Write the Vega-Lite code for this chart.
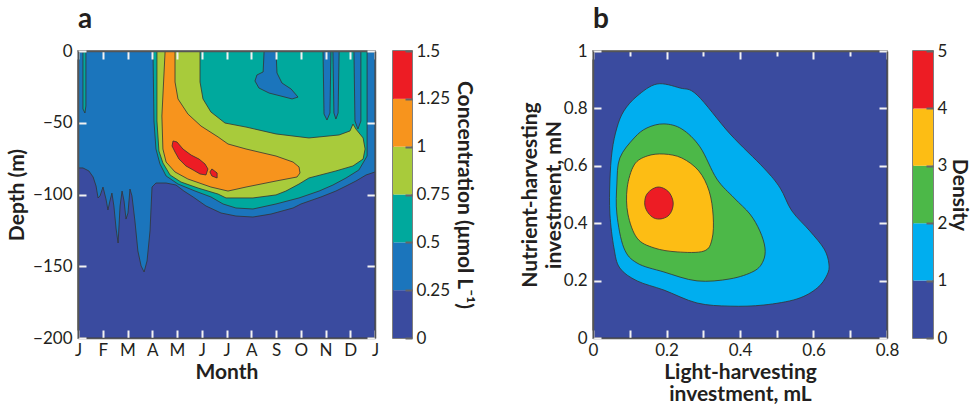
{
  "$schema": "https://vega.github.io/schema/vega-lite/v6.json",
  "background": "white",
  "padding": {"left": 5, "top": 5, "right": 0, "bottom": 0},
  "config": {
    "font": "Lato",
    "view": {"stroke": "#555555", "strokeWidth": 1.5},
    "axis": {
      "labelFont": "Lato", "labelFontSize": 17, "labelColor": "#231f20",
      "titleFont": "Lato", "titleFontSize": 21, "titleFontWeight": "bold", "titleColor": "#231f20",
      "grid": false, "domain": true, "domainColor": "#555555", "domainWidth": 1.5,
      "tickColor": "#f2f2f2", "tickWidth": 2, "tickSize": -8,
      "labelFlush": false, "labelOverlap": false
    },
    "axisX": {"labelPadding": 12, "titlePadding": 3},
    "axisY": {"labelPadding": 14, "titlePadding": 5},
    "title": {"font": "Lato", "fontSize": 28, "fontWeight": "bold", "color": "#231f20", "anchor": "start", "frame": "group", "offset": 8}
  },
  "datasets": {
    "polyA": [
      {"poly":"a0","level":0,"k":0,"month":0,"depth":0},
      {"poly":"a0","level":0,"k":1,"month":12,"depth":0},
      {"poly":"a0","level":0,"k":2,"month":12,"depth":-200},
      {"poly":"a0","level":0,"k":3,"month":0,"depth":-200},

      {"poly":"a1","level":0.25,"k":0,"month":0,"depth":0},
      {"poly":"a1","level":0.25,"k":1,"month":12,"depth":0},
      {"poly":"a1","level":0.25,"k":2,"month":12,"depth":-84.3},
      {"poly":"a1","level":0.25,"k":3,"month":11.64,"depth":-86.4},
      {"poly":"a1","level":0.25,"k":4,"month":11.23,"depth":-90.6},
      {"poly":"a1","level":0.25,"k":5,"month":10.83,"depth":-94.1},
      {"poly":"a1","level":0.25,"k":6,"month":10.42,"depth":-97.6},
      {"poly":"a1","level":0.25,"k":7,"month":9.82,"depth":-101.7},
      {"poly":"a1","level":0.25,"k":8,"month":9.01,"depth":-106.6},
      {"poly":"a1","level":0.25,"k":9,"month":8.69,"depth":-109.4},
      {"poly":"a1","level":0.25,"k":10,"month":7.80,"depth":-113.6},
      {"poly":"a1","level":0.25,"k":11,"month":7.07,"depth":-115.7},
      {"poly":"a1","level":0.25,"k":12,"month":6.38,"depth":-115.0},
      {"poly":"a1","level":0.25,"k":13,"month":5.78,"depth":-112.9},
      {"poly":"a1","level":0.25,"k":14,"month":5.17,"depth":-108.0},
      {"poly":"a1","level":0.25,"k":15,"month":4.65,"depth":-101.7},
      {"poly":"a1","level":0.25,"k":16,"month":4.28,"depth":-97.6},
      {"poly":"a1","level":0.25,"k":17,"month":3.96,"depth":-93.4},
      {"poly":"a1","level":0.25,"k":18,"month":3.56,"depth":-92.0},
      {"poly":"a1","level":0.25,"k":19,"month":3.15,"depth":-92.0},
      {"poly":"a1","level":0.25,"k":20,"month":2.99,"depth":-94.8},
      {"poly":"a1","level":0.25,"k":21,"month":2.91,"depth":-125.4},
      {"poly":"a1","level":0.25,"k":22,"month":2.79,"depth":-146.3},
      {"poly":"a1","level":0.25,"k":23,"month":2.67,"depth":-154.0},
      {"poly":"a1","level":0.25,"k":24,"month":2.55,"depth":-149.8},
      {"poly":"a1","level":0.25,"k":25,"month":2.42,"depth":-139.4},
      {"poly":"a1","level":0.25,"k":26,"month":2.30,"depth":-118.5},
      {"poly":"a1","level":0.25,"k":27,"month":2.18,"depth":-101.0},
      {"poly":"a1","level":0.25,"k":28,"month":2.10,"depth":-96.2},
      {"poly":"a1","level":0.25,"k":29,"month":2.02,"depth":-112.9},
      {"poly":"a1","level":0.25,"k":30,"month":1.94,"depth":-117.1},
      {"poly":"a1","level":0.25,"k":31,"month":1.86,"depth":-104.5},
      {"poly":"a1","level":0.25,"k":32,"month":1.78,"depth":-97.6},
      {"poly":"a1","level":0.25,"k":33,"month":1.70,"depth":-108.0},
      {"poly":"a1","level":0.25,"k":34,"month":1.62,"depth":-133.8},
      {"poly":"a1","level":0.25,"k":35,"month":1.54,"depth":-124.0},
      {"poly":"a1","level":0.25,"k":36,"month":1.45,"depth":-108.0},
      {"poly":"a1","level":0.25,"k":37,"month":1.37,"depth":-99.0},
      {"poly":"a1","level":0.25,"k":38,"month":1.29,"depth":-104.5},
      {"poly":"a1","level":0.25,"k":39,"month":1.21,"depth":-110.8},
      {"poly":"a1","level":0.25,"k":40,"month":1.13,"depth":-103.1},
      {"poly":"a1","level":0.25,"k":41,"month":1.01,"depth":-94.8},
      {"poly":"a1","level":0.25,"k":42,"month":0.89,"depth":-101.0},
      {"poly":"a1","level":0.25,"k":43,"month":0.81,"depth":-102.4},
      {"poly":"a1","level":0.25,"k":44,"month":0.73,"depth":-94.1},
      {"poly":"a1","level":0.25,"k":45,"month":0.61,"depth":-87.8},
      {"poly":"a1","level":0.25,"k":46,"month":0.44,"depth":-83.6},
      {"poly":"a1","level":0.25,"k":47,"month":0.20,"depth":-81.5},
      {"poly":"a1","level":0.25,"k":48,"month":0,"depth":-81.5},

      {"poly":"a2","level":0.5,"k":0,"month":0.20,"depth":0},
      {"poly":"a2","level":0.5,"k":1,"month":0.32,"depth":0},
      {"poly":"a2","level":0.5,"k":2,"month":0.32,"depth":-38.3},
      {"poly":"a2","level":0.5,"k":3,"month":0.28,"depth":-43.2},
      {"poly":"a2","level":0.5,"k":4,"month":0.20,"depth":-40.4},

      {"poly":"a3","level":0.5,"k":0,"month":3.03,"depth":0},
      {"poly":"a3","level":0.5,"k":1,"month":11.68,"depth":0},
      {"poly":"a3","level":0.5,"k":2,"month":11.68,"depth":-73.2},
      {"poly":"a3","level":0.5,"k":3,"month":11.35,"depth":-82.9},
      {"poly":"a3","level":0.5,"k":4,"month":10.83,"depth":-88.5},
      {"poly":"a3","level":0.5,"k":5,"month":10.30,"depth":-93.4},
      {"poly":"a3","level":0.5,"k":6,"month":9.74,"depth":-97.6},
      {"poly":"a3","level":0.5,"k":7,"month":8.93,"depth":-102.4},
      {"poly":"a3","level":0.5,"k":8,"month":8.0,"depth":-106.6},
      {"poly":"a3","level":0.5,"k":9,"month":7.07,"depth":-110.1},
      {"poly":"a3","level":0.5,"k":10,"month":6.38,"depth":-109.4},
      {"poly":"a3","level":0.5,"k":11,"month":5.86,"depth":-106.6},
      {"poly":"a3","level":0.5,"k":12,"month":5.37,"depth":-101.7},
      {"poly":"a3","level":0.5,"k":13,"month":4.73,"depth":-97.6},
      {"poly":"a3","level":0.5,"k":14,"month":4.04,"depth":-92.7},
      {"poly":"a3","level":0.5,"k":15,"month":3.56,"depth":-87.1},
      {"poly":"a3","level":0.5,"k":16,"month":3.31,"depth":-78.7},
      {"poly":"a3","level":0.5,"k":17,"month":3.15,"depth":-68.3},
      {"poly":"a3","level":0.5,"k":18,"month":3.07,"depth":-48.8},

      {"poly":"a5","level":0.75,"k":0,"month":3.19,"depth":0},
      {"poly":"a5","level":0.75,"k":1,"month":4.93,"depth":0},
      {"poly":"a5","level":0.75,"k":2,"month":4.93,"depth":-21.6},
      {"poly":"a5","level":0.75,"k":3,"month":5.05,"depth":-33.4},
      {"poly":"a5","level":0.75,"k":4,"month":5.37,"depth":-42.5},
      {"poly":"a5","level":0.75,"k":5,"month":5.94,"depth":-50.2},
      {"poly":"a5","level":0.75,"k":6,"month":6.79,"depth":-53.0},
      {"poly":"a5","level":0.75,"k":7,"month":8.0,"depth":-57.8},
      {"poly":"a5","level":0.75,"k":8,"month":9.33,"depth":-60.6},
      {"poly":"a5","level":0.75,"k":9,"month":10.55,"depth":-58.5},
      {"poly":"a5","level":0.75,"k":10,"month":10.99,"depth":-55.7},
      {"poly":"a5","level":0.75,"k":11,"month":11.11,"depth":-50.9},
      {"poly":"a5","level":0.75,"k":12,"month":11.23,"depth":-54.4},
      {"poly":"a5","level":0.75,"k":13,"month":11.52,"depth":-60.6},
      {"poly":"a5","level":0.75,"k":14,"month":11.60,"depth":-68.3},
      {"poly":"a5","level":0.75,"k":15,"month":11.52,"depth":-75.3},
      {"poly":"a5","level":0.75,"k":16,"month":11.11,"depth":-80.1},
      {"poly":"a5","level":0.75,"k":17,"month":10.42,"depth":-83.6},
      {"poly":"a5","level":0.75,"k":18,"month":9.33,"depth":-88.5},
      {"poly":"a5","level":0.75,"k":19,"month":8.93,"depth":-92.7},
      {"poly":"a5","level":0.75,"k":20,"month":8.40,"depth":-97.6},
      {"poly":"a5","level":0.75,"k":21,"month":8.0,"depth":-100.3},
      {"poly":"a5","level":0.75,"k":22,"month":7.07,"depth":-102.4},
      {"poly":"a5","level":0.75,"k":23,"month":5.98,"depth":-102.4},
      {"poly":"a5","level":0.75,"k":24,"month":5.66,"depth":-99.7},
      {"poly":"a5","level":0.75,"k":25,"month":4.85,"depth":-95.5},
      {"poly":"a5","level":0.75,"k":26,"month":4.16,"depth":-91.3},
      {"poly":"a5","level":0.75,"k":27,"month":3.72,"depth":-86.4},
      {"poly":"a5","level":0.75,"k":28,"month":3.43,"depth":-78.0},
      {"poly":"a5","level":0.75,"k":29,"month":3.27,"depth":-69.7},
      {"poly":"a5","level":0.75,"k":30,"month":3.19,"depth":-48.8},

      {"poly":"a6","level":1,"k":0,"month":3.52,"depth":0},
      {"poly":"a6","level":1,"k":1,"month":3.92,"depth":0},
      {"poly":"a6","level":1,"k":2,"month":3.92,"depth":-21.6},
      {"poly":"a6","level":1,"k":3,"month":4.04,"depth":-33.4},
      {"poly":"a6","level":1,"k":4,"month":4.44,"depth":-43.9},
      {"poly":"a6","level":1,"k":5,"month":4.97,"depth":-52.3},
      {"poly":"a6","level":1,"k":6,"month":5.66,"depth":-59.9},
      {"poly":"a6","level":1,"k":7,"month":6.06,"depth":-64.8},
      {"poly":"a6","level":1,"k":8,"month":6.79,"depth":-68.3},
      {"poly":"a6","level":1,"k":9,"month":8.0,"depth":-73.2},
      {"poly":"a6","level":1,"k":10,"month":8.69,"depth":-77.4},
      {"poly":"a6","level":1,"k":11,"month":8.93,"depth":-80.8},
      {"poly":"a6","level":1,"k":12,"month":8.97,"depth":-85.0},
      {"poly":"a6","level":1,"k":13,"month":8.85,"depth":-87.8},
      {"poly":"a6","level":1,"k":14,"month":8.0,"depth":-90.6},
      {"poly":"a6","level":1,"k":15,"month":6.79,"depth":-94.8},
      {"poly":"a6","level":1,"k":16,"month":6.06,"depth":-97.6},
      {"poly":"a6","level":1,"k":17,"month":5.37,"depth":-94.8},
      {"poly":"a6","level":1,"k":18,"month":4.44,"depth":-89.2},
      {"poly":"a6","level":1,"k":19,"month":3.92,"depth":-84.3},
      {"poly":"a6","level":1,"k":20,"month":3.56,"depth":-77.4},
      {"poly":"a6","level":1,"k":21,"month":3.43,"depth":-68.3},
      {"poly":"a6","level":1,"k":22,"month":3.39,"depth":-45.3},

      {"poly":"a7","level":1.25,"k":0,"month":3.84,"depth":-62.7},
      {"poly":"a7","level":1.25,"k":1,"month":4.0,"depth":-63.4},
      {"poly":"a7","level":1.25,"k":2,"month":4.24,"depth":-68.3},
      {"poly":"a7","level":1.25,"k":3,"month":4.57,"depth":-72.5},
      {"poly":"a7","level":1.25,"k":4,"month":4.89,"depth":-75.3},
      {"poly":"a7","level":1.25,"k":5,"month":5.13,"depth":-78.7},
      {"poly":"a7","level":1.25,"k":6,"month":5.25,"depth":-82.2},
      {"poly":"a7","level":1.25,"k":7,"month":5.17,"depth":-86.4},
      {"poly":"a7","level":1.25,"k":8,"month":4.93,"depth":-85.7},
      {"poly":"a7","level":1.25,"k":9,"month":4.65,"depth":-82.9},
      {"poly":"a7","level":1.25,"k":10,"month":4.36,"depth":-80.1},
      {"poly":"a7","level":1.25,"k":11,"month":4.08,"depth":-75.3},
      {"poly":"a7","level":1.25,"k":12,"month":3.92,"depth":-70.4},
      {"poly":"a7","level":1.25,"k":13,"month":3.80,"depth":-66.2},

      {"poly":"a8","level":1.25,"k":0,"month":5.41,"depth":-82.2},
      {"poly":"a8","level":1.25,"k":1,"month":5.62,"depth":-85.0},
      {"poly":"a8","level":1.25,"k":2,"month":5.62,"depth":-88.5},
      {"poly":"a8","level":1.25,"k":3,"month":5.41,"depth":-87.1},
      {"poly":"a8","level":1.25,"k":4,"month":5.33,"depth":-84.3}
    ],
    "holesA": [
      {"poly":"h1","level":0.25,"k":0,"month":9.90,"depth":0},
      {"poly":"h1","level":0.25,"k":1,"month":10.22,"depth":0},
      {"poly":"h1","level":0.25,"k":2,"month":10.18,"depth":-43.2},
      {"poly":"h1","level":0.25,"k":3,"month":10.06,"depth":-48.1},
      {"poly":"h1","level":0.25,"k":4,"month":9.94,"depth":-43.9},
      {"poly":"h2","level":0.25,"k":0,"month":10.30,"depth":0},
      {"poly":"h2","level":0.25,"k":1,"month":10.55,"depth":0},
      {"poly":"h2","level":0.25,"k":2,"month":10.51,"depth":-43.2},
      {"poly":"h2","level":0.25,"k":3,"month":10.42,"depth":-47.4},
      {"poly":"h2","level":0.25,"k":4,"month":10.34,"depth":-43.2},
      {"poly":"h3","level":0.25,"k":0,"month":11.15,"depth":0},
      {"poly":"h3","level":0.25,"k":1,"month":11.43,"depth":0},
      {"poly":"h3","level":0.25,"k":2,"month":11.43,"depth":-48.8},
      {"poly":"h3","level":0.25,"k":3,"month":11.31,"depth":-54.4},
      {"poly":"h3","level":0.25,"k":4,"month":11.19,"depth":-48.8},
      {"poly":"h4","level":0.25,"k":0,"month":7.52,"depth":0},
      {"poly":"h4","level":0.25,"k":1,"month":8.0,"depth":0},
      {"poly":"h4","level":0.25,"k":2,"month":8.04,"depth":-15.3},
      {"poly":"h4","level":0.25,"k":3,"month":8.24,"depth":-22.3},
      {"poly":"h4","level":0.25,"k":4,"month":8.61,"depth":-26.5},
      {"poly":"h4","level":0.25,"k":5,"month":8.89,"depth":-32.1},
      {"poly":"h4","level":0.25,"k":6,"month":8.65,"depth":-33.4},
      {"poly":"h4","level":0.25,"k":7,"month":8.20,"depth":-31.4},
      {"poly":"h4","level":0.25,"k":8,"month":7.72,"depth":-29.3},
      {"poly":"h4","level":0.25,"k":9,"month":7.31,"depth":-25.8},
      {"poly":"h4","level":0.25,"k":10,"month":7.15,"depth":-20.9},
      {"poly":"h4","level":0.25,"k":11,"month":7.23,"depth":-16.7},
      {"poly":"h4","level":0.25,"k":12,"month":7.48,"depth":-14.6}
    ],
    "backB": [
      {"poly":"b0","level":0,"k":0,"mL":0,"mN":0},
      {"poly":"b0","level":0,"k":1,"mL":0.8,"mN":0},
      {"poly":"b0","level":0,"k":2,"mL":0.8,"mN":1},
      {"poly":"b0","level":0,"k":3,"mL":0,"mN":1}
    ],
    "polyB": [
      {"poly":"b1","level":1,"k":0,"mL":0.174,"mN":0.885},
      {"poly":"b1","level":1,"k":1,"mL":0.237,"mN":0.871},
      {"poly":"b1","level":1,"k":2,"mL":0.283,"mN":0.847},
      {"poly":"b1","level":1,"k":3,"mL":0.373,"mN":0.711},
      {"poly":"b1","level":1,"k":4,"mL":0.465,"mN":0.592},
      {"poly":"b1","level":1,"k":5,"mL":0.509,"mN":0.523},
      {"poly":"b1","level":1,"k":6,"mL":0.541,"mN":0.443},
      {"poly":"b1","level":1,"k":7,"mL":0.590,"mN":0.373},
      {"poly":"b1","level":1,"k":8,"mL":0.629,"mN":0.310},
      {"poly":"b1","level":1,"k":9,"mL":0.642,"mN":0.258},
      {"poly":"b1","level":1,"k":10,"mL":0.637,"mN":0.220},
      {"poly":"b1","level":1,"k":11,"mL":0.610,"mN":0.174},
      {"poly":"b1","level":1,"k":12,"mL":0.555,"mN":0.136},
      {"poly":"b1","level":1,"k":13,"mL":0.465,"mN":0.115},
      {"poly":"b1","level":1,"k":14,"mL":0.373,"mN":0.111},
      {"poly":"b1","level":1,"k":15,"mL":0.283,"mN":0.122},
      {"poly":"b1","level":1,"k":16,"mL":0.193,"mN":0.167},
      {"poly":"b1","level":1,"k":17,"mL":0.120,"mN":0.199},
      {"poly":"b1","level":1,"k":18,"mL":0.073,"mN":0.244},
      {"poly":"b1","level":1,"k":19,"mL":0.057,"mN":0.314},
      {"poly":"b1","level":1,"k":20,"mL":0.046,"mN":0.432},
      {"poly":"b1","level":1,"k":21,"mL":0.046,"mN":0.547},
      {"poly":"b1","level":1,"k":22,"mL":0.052,"mN":0.652},
      {"poly":"b1","level":1,"k":23,"mL":0.065,"mN":0.732},
      {"poly":"b1","level":1,"k":24,"mL":0.084,"mN":0.791},
      {"poly":"b1","level":1,"k":25,"mL":0.120,"mN":0.843},

      {"poly":"b2","level":2,"k":0,"mL":0.193,"mN":0.746},
      {"poly":"b2","level":2,"k":1,"mL":0.242,"mN":0.728},
      {"poly":"b2","level":2,"k":2,"mL":0.291,"mN":0.666},
      {"poly":"b2","level":2,"k":3,"mL":0.337,"mN":0.554},
      {"poly":"b2","level":2,"k":4,"mL":0.384,"mN":0.488},
      {"poly":"b2","level":2,"k":5,"mL":0.427,"mN":0.432},
      {"poly":"b2","level":2,"k":6,"mL":0.454,"mN":0.373},
      {"poly":"b2","level":2,"k":7,"mL":0.468,"mN":0.314},
      {"poly":"b2","level":2,"k":8,"mL":0.463,"mN":0.268},
      {"poly":"b2","level":2,"k":9,"mL":0.438,"mN":0.233},
      {"poly":"b2","level":2,"k":10,"mL":0.373,"mN":0.206},
      {"poly":"b2","level":2,"k":11,"mL":0.283,"mN":0.199},
      {"poly":"b2","level":2,"k":12,"mL":0.193,"mN":0.230},
      {"poly":"b2","level":2,"k":13,"mL":0.120,"mN":0.261},
      {"poly":"b2","level":2,"k":14,"mL":0.084,"mN":0.314},
      {"poly":"b2","level":2,"k":15,"mL":0.065,"mN":0.432},
      {"poly":"b2","level":2,"k":16,"mL":0.065,"mN":0.537},
      {"poly":"b2","level":2,"k":17,"mL":0.073,"mN":0.627},
      {"poly":"b2","level":2,"k":18,"mL":0.112,"mN":0.697},
      {"poly":"b2","level":2,"k":19,"mL":0.147,"mN":0.732},

      {"poly":"b3","level":3,"k":0,"mL":0.193,"mN":0.641},
      {"poly":"b3","level":3,"k":1,"mL":0.242,"mN":0.627},
      {"poly":"b3","level":3,"k":2,"mL":0.288,"mN":0.582},
      {"poly":"b3","level":3,"k":3,"mL":0.316,"mN":0.512},
      {"poly":"b3","level":3,"k":4,"mL":0.327,"mN":0.425},
      {"poly":"b3","level":3,"k":5,"mL":0.324,"mN":0.345},
      {"poly":"b3","level":3,"k":6,"mL":0.302,"mN":0.303},
      {"poly":"b3","level":3,"k":7,"mL":0.229,"mN":0.300},
      {"poly":"b3","level":3,"k":8,"mL":0.166,"mN":0.314},
      {"poly":"b3","level":3,"k":9,"mL":0.120,"mN":0.348},
      {"poly":"b3","level":3,"k":10,"mL":0.095,"mN":0.432},
      {"poly":"b3","level":3,"k":11,"mL":0.093,"mN":0.523},
      {"poly":"b3","level":3,"k":12,"mL":0.112,"mN":0.603},
      {"poly":"b3","level":3,"k":13,"mL":0.147,"mN":0.634},

      {"poly":"b4","level":4,"k":0,"mL":0.177,"mN":0.526},
      {"poly":"b4","level":4,"k":1,"mL":0.196,"mN":0.519},
      {"poly":"b4","level":4,"k":2,"mL":0.210,"mN":0.502},
      {"poly":"b4","level":4,"k":3,"mL":0.218,"mN":0.474},
      {"poly":"b4","level":4,"k":4,"mL":0.215,"mN":0.446},
      {"poly":"b4","level":4,"k":5,"mL":0.204,"mN":0.425},
      {"poly":"b4","level":4,"k":6,"mL":0.185,"mN":0.415},
      {"poly":"b4","level":4,"k":7,"mL":0.166,"mN":0.418},
      {"poly":"b4","level":4,"k":8,"mL":0.150,"mN":0.436},
      {"poly":"b4","level":4,"k":9,"mL":0.141,"mN":0.463},
      {"poly":"b4","level":4,"k":10,"mL":0.144,"mN":0.495},
      {"poly":"b4","level":4,"k":11,"mL":0.158,"mN":0.516}
    ],
    "barA": [
      {"lo":0,"hi":0.25,"level":0},
      {"lo":0.25,"hi":0.5,"level":0.25},
      {"lo":0.5,"hi":0.75,"level":0.5},
      {"lo":0.75,"hi":1,"level":0.75},
      {"lo":1,"hi":1.25,"level":1},
      {"lo":1.25,"hi":1.5,"level":1.25}
    ],
    "barB": [
      {"lo":0,"hi":1,"level":0},
      {"lo":1,"hi":2,"level":1},
      {"lo":2,"hi":3,"level":2},
      {"lo":3,"hi":4,"level":3},
      {"lo":4,"hi":5,"level":4}
    ]
  },
  "hconcat": [
    {
      "spacing": 12,
      "resolve": {"scale": {"x": "independent", "y": "independent", "color": "shared"}},
      "hconcat": [
        {
          "width": 297, "height": 287,
          "title": {"text": "a"},
          "resolve": {"axis": {"x": "independent", "y": "independent"}},
          "layer": [
            {
              "data": {"name": "polyA"},
              "mark": {"type": "line", "filled": true, "interpolate": "linear-closed", "stroke": "#333333", "strokeWidth": 0.8, "opacity": 1, "clip": true},
              "encoding": {
                "x": {"field": "month", "type": "quantitative", "scale": {"domain": [0, 12], "nice": false, "zero": false},
                      "axis": {"orient": "bottom", "zindex": 1, "values": [0,1,2,3,4,5,6,7,8,9,10,11,12], "labelExpr": "['J','F','M','A','M','J','J','A','S','O','N','D','J'][datum.value]", "title": "Month"}},
                "y": {"field": "depth", "type": "quantitative", "scale": {"domain": [-200, 0], "nice": false, "zero": false},
                      "axis": {"orient": "left", "zindex": 1, "values": [0,-50,-100,-150,-200], "format": "d", "title": "Depth (m)"}},
                "color": {"field": "level", "type": "ordinal", "legend": null,
                          "scale": {"domain": [0,0.25,0.5,0.75,1,1.25], "range": ["#3a4b9f","#1b75bc","#00a99d","#a8cb3b","#f7941d","#ed1c24"]}},
                "detail": {"field": "poly"},
                "order": {"field": "k", "type": "quantitative"}
              }
            },
            {
              "data": {"name": "holesA"},
              "mark": {"type": "line", "filled": true, "interpolate": "linear-closed", "stroke": "#333333", "strokeWidth": 0.8, "opacity": 1, "clip": true},
              "encoding": {
                "x": {"field": "month", "type": "quantitative", "axis": {"orient": "top", "zindex": 1, "values": [0,1,2,3,4,5,6,7,8,9,10,11,12], "labels": false, "title": null}},
                "y": {"field": "depth", "type": "quantitative", "axis": {"orient": "right", "zindex": 1, "values": [0,-50,-100,-150,-200], "labels": false, "title": null}},
                "color": {"field": "level", "type": "ordinal", "legend": null},
                "detail": {"field": "poly"},
                "order": {"field": "k", "type": "quantitative"}
              }
            }
          ]
        },
        {
          "width": 19, "height": 287,
          "data": {"name": "barA"},
          "mark": {"type": "rect"},
          "encoding": {
            "y": {"field": "lo", "type": "quantitative", "scale": {"domain": [0, 1.5], "nice": false, "zero": false},
                  "axis": {"orient": "right", "zindex": 1, "values": [0,0.25,0.5,0.75,1,1.25,1.5], "labelExpr": "format(datum.value, '.2~f')", "domain": false, "tickColor": "#666666", "tickSize": -7, "labelPadding": 11, "titlePadding": 4, "title": "Concentration (μmol L⁻¹)"}},
            "y2": {"field": "hi"},
            "color": {"field": "level", "type": "ordinal", "legend": null}
          }
        }
      ]
    },
    {
      "spacing": 12,
      "resolve": {"scale": {"x": "independent", "y": "independent", "color": "shared"}},
      "hconcat": [
        {
          "width": 294, "height": 287,
          "title": {"text": "b"},
          "resolve": {"axis": {"x": "independent", "y": "independent"}},
          "layer": [
            {
              "data": {"name": "backB"},
              "mark": {"type": "line", "filled": true, "interpolate": "linear-closed", "stroke": "#333333", "strokeWidth": 0.8, "opacity": 1, "clip": true},
              "encoding": {
                "x": {"field": "mL", "type": "quantitative", "scale": {"domain": [0, 0.8], "nice": false, "zero": false},
                      "axis": {"orient": "bottom", "zindex": 1, "values": [0,0.1,0.2,0.3,0.4,0.5,0.6,0.7,0.8], "labelExpr": "round(datum.value*10) % 2 == 0 ? format(datum.value, '.1~f') : ''", "title": ["Light-harvesting", "investment, mL"], "titleLineHeight": 22}},
                "y": {"field": "mN", "type": "quantitative", "scale": {"domain": [0, 1], "nice": false, "zero": false},
                      "axis": {"orient": "left", "zindex": 1, "values": [0,0.2,0.4,0.6,0.8,1], "labelExpr": "format(datum.value, '.1~f')", "title": ["Nutrient-harvesting", "investment, mN"], "titleLineHeight": 24, "titlePadding": -1}},
                "color": {"field": "level", "type": "ordinal", "legend": null,
                          "scale": {"domain": [0,1,2,3,4], "range": ["#3a4b9f","#00aeef","#4cb848","#fdbd14","#ed1c24"]}},
                "detail": {"field": "poly"},
                "order": {"field": "k", "type": "quantitative"}
              }
            },
            {
              "data": {"name": "polyB"},
              "mark": {"type": "line", "filled": true, "interpolate": "cardinal-closed", "stroke": "#333333", "strokeWidth": 0.8, "opacity": 1, "clip": true},
              "encoding": {
                "x": {"field": "mL", "type": "quantitative", "axis": {"orient": "top", "zindex": 1, "values": [0,0.1,0.2,0.3,0.4,0.5,0.6,0.7,0.8], "labels": false, "title": null,
                      "tickSize": {"condition": {"test": "round(datum.value*10) % 2 == 0", "value": -8}, "value": -5}}},
                "y": {"field": "mN", "type": "quantitative", "axis": {"orient": "right", "zindex": 1, "values": [0,0.2,0.4,0.6,0.8,1], "labels": false, "title": null}},
                "color": {"field": "level", "type": "ordinal", "legend": null},
                "detail": {"field": "poly"},
                "order": {"field": "k", "type": "quantitative"}
              }
            }
          ]
        },
        {
          "width": 20, "height": 287,
          "data": {"name": "barB"},
          "mark": {"type": "rect"},
          "encoding": {
            "y": {"field": "lo", "type": "quantitative", "scale": {"domain": [0, 5], "nice": false, "zero": false},
                  "axis": {"orient": "right", "zindex": 1, "values": [0,1,2,3,4,5], "format": "d", "domain": false, "tickColor": "#666666", "tickSize": -7, "labelPadding": 11, "titlePadding": 2, "title": "Density"}},
            "y2": {"field": "hi"},
            "color": {"field": "level", "type": "ordinal", "legend": null}
          }
        }
      ]
    }
  ],
  "spacing": 42,
  "resolve": {"scale": {"color": "independent"}}
}
